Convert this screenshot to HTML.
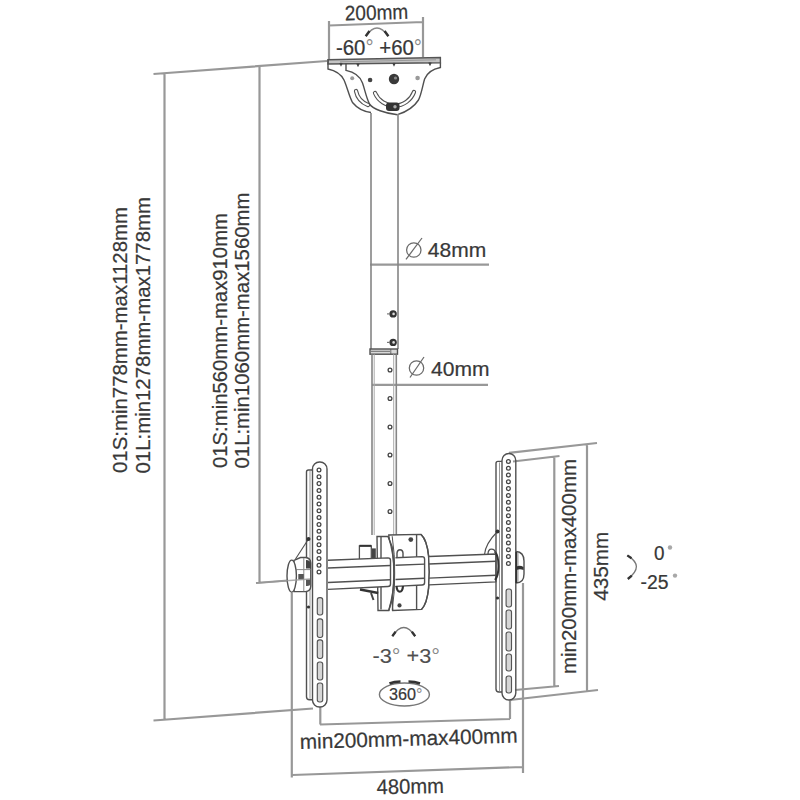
<!DOCTYPE html>
<html><head><meta charset="utf-8"><style>
html,body{margin:0;padding:0;background:#fff;width:800px;height:800px;overflow:hidden}
svg{display:block}
text{font-family:"Liberation Sans",sans-serif;fill:#383838;stroke:#383838;stroke-width:0.22}
.d{stroke:#989898;stroke-width:2.2;fill:none}
.o{stroke:#505050;stroke-width:1.4;fill:none}
</style></head><body>
<svg width="800" height="800" viewBox="0 0 800 800">
<rect width="800" height="800" fill="#fff"/>
<g class="d">
  <path d="M329 21V60 M423 17V57 M329 25.5L423 22"/>
  <path d="M153.5 74L327 61 M164.5 72.5V720 M153.5 720.5L313 708.5"/>
  <path d="M259.5 66V583 M256 583L288 580.5 M296 579.9L310 579"/>
  <path d="M370 264.6H489 M372 384.8H488"/>
  <path d="M509 452.8L597 443 M587 445V692 M513 461.5L559.5 456 M554.3 457V686 M515 690L559 686 M510 700L598 690"/>
  <path d="M291.8 592.5V777.5 M523 583V773 M292.3 775L523 767 M320.3 707V724.5 M510 700V719 M320 724.5L510 719"/>
</g>

<text x="345" y="20.6" transform="rotate(-1.7 345 20.6)" font-size="21" textLength="63.5" lengthAdjust="spacingAndGlyphs">200mm</text>
<text x="336" y="55" font-size="21.5" textLength="86" lengthAdjust="spacingAndGlyphs">-60<tspan style="fill:#8a8a8a;stroke:none">°</tspan> +60<tspan style="fill:#8a8a8a;stroke:none">°</tspan></text>
<path d="M366 36Q377 20 388 36" class="o" style="stroke:#888;stroke-width:1.3"/>
<path d="M365.7 36.3L369.5 31 M388.4 36.3L384.6 31" stroke="#333" stroke-width="2.4" fill="none"/>
<g class="o" style="stroke:#6a6a6a;stroke-width:1.25">
  <circle cx="413.8" cy="250" r="7.2"/><path d="M406 259.4L422 238"/>
  <circle cx="416.5" cy="368" r="7.2"/><path d="M410 377.5L424 357"/>
</g>
<text x="427.8" y="256.8" font-size="21" textLength="58.5" lengthAdjust="spacingAndGlyphs">48mm</text>
<text x="431" y="375.8" font-size="21" textLength="58.5" lengthAdjust="spacingAndGlyphs">40mm</text>
<text transform="translate(127.3 473) rotate(-90)" font-size="20.5" textLength="266" lengthAdjust="spacingAndGlyphs">01S:min778mm-max1128mm</text>
<text transform="translate(149.5 473.5) rotate(-90)" font-size="20.5" textLength="276.5" lengthAdjust="spacingAndGlyphs">01L:min1278mm-max1778mm</text>
<text transform="translate(226.5 468) rotate(-90)" font-size="20.5" textLength="255" lengthAdjust="spacingAndGlyphs">01S:min560mm-max910mm</text>
<text transform="translate(249 468.5) rotate(-90)" font-size="20.5" textLength="276" lengthAdjust="spacingAndGlyphs">01L:min1060mm-max1560mm</text>
<text transform="translate(575.5 674) rotate(-90)" font-size="20.5" textLength="215" lengthAdjust="spacingAndGlyphs">min200mm-max400mm</text>
<text transform="translate(607.5 600.8) rotate(-90)" font-size="20.5" textLength="69" lengthAdjust="spacingAndGlyphs">435mm</text>
<text x="654" y="560" font-size="20.5" textLength="10.5" lengthAdjust="spacingAndGlyphs">0</text>
<circle cx="670" cy="547.5" r="2.2" fill="#a8a8a8"/>
<text x="640.6" y="589.4" font-size="20.5" textLength="28" lengthAdjust="spacingAndGlyphs">-25</text>
<circle cx="675" cy="575.6" r="2.2" fill="#a8a8a8"/>
<path d="M627.5 555.6Q645 566 628 578.8" class="o" style="stroke:#777;stroke-width:1.3"/>
<path d="M627.3 555.4L631.5 558.3 M627.8 579L631.8 575.6" stroke="#333" stroke-width="2.3" fill="none"/>
<text x="372.5" y="662.5" font-size="20.5" textLength="67.5" lengthAdjust="spacingAndGlyphs" style="fill:#505050;stroke:#505050;stroke-width:0.1">-3<tspan style="fill:#8a8a8a;stroke:none">°</tspan> +3<tspan style="fill:#8a8a8a;stroke:none">°</tspan></text>
<path d="M392.5 636Q403.8 619 415 636" class="o" style="stroke:#777;stroke-width:1.3"/>
<path d="M392.3 636.3L395.6 631.8 M415.2 636.3L411.9 631.8" stroke="#333" stroke-width="2.3" fill="none"/>
<ellipse cx="404.4" cy="694.5" rx="25" ry="11.5" class="o" style="stroke:#777"/>
<path d="M389.5 683.5Q394 681.5 400.5 681.5 M408.5 681.5Q415 681.5 420 683.5" stroke="#333" stroke-width="2.6" fill="none"/>
<text x="389" y="700" font-size="16.5" textLength="33.5" lengthAdjust="spacingAndGlyphs">360<tspan style="fill:#8a8a8a;stroke:none">°</tspan></text>
<text x="300" y="749" transform="rotate(-1.7 300 749)" font-size="21" textLength="218" lengthAdjust="spacingAndGlyphs">min200mm-max400mm</text>
<text x="376.8" y="794.2" transform="rotate(-1.2 376.8 794.2)" font-size="21" textLength="67.2" lengthAdjust="spacingAndGlyphs">480mm</text>

<g class="o">
  <path d="M440.4 62.5V67.5C433 69 427 73 424.6 79C422.5 86 421.5 94 418.5 100C414 107 406 112 397.5 114.7"/>
  <path d="M328 59.8L440.4 57.5V62.8L328 64Z" style="fill:#c4c4c4" stroke="#555"/>
  <path d="M340 61.8L436 59.8" stroke="#999" stroke-width="1"/>
  <path d="M328 59.5V69C335 70.5 341 74 344 80C347.5 88 349 96 352.5 102.5C357 108 363 111.5 371 112.5"/>
  <path d="M346 63V70.4C354 72 360 76 362.5 83C365 90 366 97 369.5 104C373 109 385 113.5 397.5 114.7"/>
</g>
<path d="M375 93A21 21 0 0 0 414 92" fill="none" stroke="#555" stroke-width="4.3" stroke-linecap="round"/>
<path d="M375 93A21 21 0 0 0 414 92" fill="none" stroke="#fff" stroke-width="2.1" stroke-linecap="round"/>
<path d="M356 91Q358 101 368 105" fill="none" stroke="#555" stroke-width="4.3" stroke-linecap="round"/>
<path d="M356 91Q358 101 368 105" fill="none" stroke="#fff" stroke-width="2.1" stroke-linecap="round"/>
<circle cx="394" cy="79" r="5.2" fill="#3a3a3a"/><circle cx="395.5" cy="78" r="1.6" fill="#888"/>
<circle cx="417.6" cy="78" r="2.3" fill="#9a9a9a"/>
<circle cx="370.1" cy="80" r="2.3" fill="#444"/>
<circle cx="352.2" cy="78.2" r="2" fill="#9a9a9a"/>
<rect x="386" y="102.5" width="13.5" height="8.5" rx="3" fill="#333"/>
<circle cx="395" cy="106.8" r="1.7" fill="#aaa"/>
<path d="M340 63l1 2 1-2 M357 63.5l1 2 1-2 M393 63l1 2 1-2 M429 62.5l1 2 1-2" stroke="#444" stroke-width="1.6" fill="none"/>

<g class="o">
  <path d="M371 113V349 M398 114V349" style="stroke:#858585;stroke-width:1.6"/>
  <rect x="370" y="349" width="27.5" height="5.2" fill="#d8d8d8"/>
  <path d="M390.8 349V354.2 M371 351.3H390" stroke-width="0.8"/>
  <path d="M372 354.2V535 M396.3 354.2V535" style="stroke:#858585;stroke-width:1.6"/>
  <path d="M374.2 354.2V535 M393.7 354.2V535" stroke="#aaa" stroke-width="1"/>
</g>
<circle cx="393.1" cy="313.9" r="3.7" fill="#333"/><circle cx="393.6" cy="313.9" r="1.3" fill="#ddd"/><path d="M387 313.9H390" stroke="#777" stroke-width="1.2"/>
<circle cx="393.1" cy="342.4" r="3.7" fill="#333"/><circle cx="393.6" cy="342.4" r="1.3" fill="#ddd"/><path d="M387 342.4H390" stroke="#777" stroke-width="1.2"/>

<circle cx="390" cy="370" r="1.9" fill="none" stroke="#444" stroke-width="1.3"/>
<circle cx="390" cy="398.5" r="1.9" fill="none" stroke="#444" stroke-width="1.3"/>
<circle cx="390" cy="427" r="1.9" fill="none" stroke="#444" stroke-width="1.3"/>
<circle cx="390" cy="455" r="1.9" fill="none" stroke="#444" stroke-width="1.3"/>
<circle cx="390" cy="483.5" r="1.9" fill="none" stroke="#444" stroke-width="1.3"/>
<circle cx="390" cy="511.5" r="1.9" fill="none" stroke="#444" stroke-width="1.3"/>
<g class="o" style="fill:#fff">
  <path d="M388.8 535L421.1 534.4Q427 540 428.6 556Q430 572 428.6 588Q427 604 421.5 609.4L392.75 610.5Z"/>
  <path d="M377 536.5H388L392.2 547Q395.6 573 392.2 599L388.8 610.5H378Z"/>
  <path d="M392.2 536.2Q397.5 573 392.2 610.4" fill="none" stroke-width="1"/>
  <path d="M381 537V609.5" stroke-width="1.4"/>
  <path d="M416.6 535V609.5"/>
  <path d="M359.4 559V545.8H371.3V559" stroke-width="1.3"/>
  <path d="M397 559V553Q397.3 549.8 400 549.8Q402.8 549.8 403 553V559" stroke-width="1.4"/>
</g>
<path d="M359.4 545.8H371.3" stroke="#333" stroke-width="2"/>
<rect x="372" y="548.4" width="3.8" height="10" fill="#444"/>

<path d="M328 560.26L388 557.92Q390.5 557.92 390.5 560.42V584.07Q390.5 586.57 388 586.57L328 589.36" class="o" style="fill:#fff"/>
<path d="M328 568.06L390.5 565.51" class="o"/>
<path d="M328 582.46L390.5 579.78" class="o"/>
<path d="M395.5 557.73L422.1 556.64Q424.6 556.64 424.6 559.14V582.54Q424.6 585.04 422.1 585.04L395.5 586.34" class="o" style="fill:#fff"/>
<path d="M395.5 565.31L424.6 564.12" class="o"/>
<path d="M395.5 579.56L424.6 578.32" class="o"/>
<path d="M429 556.48L495.99 553.96Q496 553.96 496 553.97V581.85Q496 581.86 495.99 581.86L429 584.85" class="o" style="fill:#fff"/>
<path d="M429 563.94L496 561.21" class="o"/>
<path d="M429 578.13L496 575.26" class="o"/>
<g class="o">
  <path d="M388.8 537.4Q399.5 573 388.8 610.5"/>
  <path d="M421.1 534.4Q427 540 428.6 556Q430 572 428.6 588Q427 604 421.5 609.4"/>
  <path d="M360 589.5L378.2 593" stroke="#333" stroke-width="2.4"/>
  <path d="M371 593L373.5 600" stroke="#444" stroke-width="2"/>
  <path d="M396.5 586Q397 591.7 399.8 591.7Q402.6 591.7 403 586" stroke="#333" stroke-width="2.2"/>
</g>
<circle cx="410.8" cy="539.6" r="2.4" fill="#444"/>
<circle cx="399.5" cy="605.4" r="2.1" fill="#444"/>

<g class="o">
<rect x="312.5" y="462" width="14.5" height="245" rx="7" ry="7"/>
<path d="M312.5 470H308.5Q306.5 470 306.5 472V696.8Q306.5 699.8 309.5 699.8H312.5"/>
<path d="M310 471V698.8" stroke="#999" stroke-width="1"/>
<path d="M308.5 539L295.5 559" stroke-width="1.1"/>
</g>
<circle cx="319" cy="470" r="1.9" fill="none" stroke="#444" stroke-width="1.25"/>
<circle cx="319" cy="476.8" r="1.9" fill="none" stroke="#444" stroke-width="1.25"/>
<circle cx="319" cy="483.6" r="1.9" fill="none" stroke="#444" stroke-width="1.25"/>
<circle cx="319" cy="490.4" r="1.9" fill="none" stroke="#444" stroke-width="1.25"/>
<circle cx="319" cy="497.2" r="1.9" fill="none" stroke="#444" stroke-width="1.25"/>
<circle cx="319" cy="504" r="1.9" fill="none" stroke="#444" stroke-width="1.25"/>
<circle cx="319" cy="510.8" r="1.9" fill="none" stroke="#444" stroke-width="1.25"/>
<circle cx="319" cy="517.6" r="1.9" fill="none" stroke="#444" stroke-width="1.25"/>
<circle cx="319" cy="524.4" r="1.9" fill="none" stroke="#444" stroke-width="1.25"/>
<circle cx="319" cy="531.2" r="1.9" fill="none" stroke="#444" stroke-width="1.25"/>
<circle cx="319" cy="538" r="1.9" fill="none" stroke="#444" stroke-width="1.25"/>
<circle cx="319" cy="544.8" r="1.9" fill="none" stroke="#444" stroke-width="1.25"/>
<circle cx="319" cy="551.6" r="1.9" fill="none" stroke="#444" stroke-width="1.25"/>
<circle cx="319" cy="558.4" r="1.9" fill="none" stroke="#444" stroke-width="1.25"/>
<circle cx="319" cy="565.2" r="1.9" fill="none" stroke="#444" stroke-width="1.25"/>
<circle cx="319" cy="572" r="1.9" fill="none" stroke="#444" stroke-width="1.25"/>
<rect x="317.3" y="597.6" width="5.4" height="17.4" rx="2.2" fill="#d6d6d6" stroke="#555" stroke-width="1.15"/>
<rect x="317.3" y="618.8" width="5.4" height="18.7" rx="2.2" fill="#d6d6d6" stroke="#555" stroke-width="1.15"/>
<rect x="317.3" y="639.8" width="5.4" height="18.7" rx="2.2" fill="#d6d6d6" stroke="#555" stroke-width="1.15"/>
<rect x="317.3" y="662" width="5.4" height="18" rx="2.2" fill="#d6d6d6" stroke="#555" stroke-width="1.15"/>
<rect x="317.3" y="683" width="5.4" height="19" rx="2.2" fill="#d6d6d6" stroke="#555" stroke-width="1.15"/>
<circle cx="308.5" cy="539" r="2" fill="#333"/>
<circle cx="308.5" cy="607" r="1.6" fill="#333"/>
<g class="o">
<rect x="502" y="453.5" width="13.8" height="246.5" rx="7" ry="7"/>
<path d="M502 461.4H498Q496 461.4 496 463.4V689Q496 692 499 692H502"/>
<path d="M499.5 462.4V691" stroke="#999" stroke-width="1"/>
<path d="M497.5 531.5Q485.5 543.5 484.5 554.5" stroke-width="1.1"/>
</g>
<circle cx="508.4" cy="461.4" r="1.9" fill="none" stroke="#444" stroke-width="1.25"/>
<circle cx="508.4" cy="468.2" r="1.9" fill="none" stroke="#444" stroke-width="1.25"/>
<circle cx="508.4" cy="475" r="1.9" fill="none" stroke="#444" stroke-width="1.25"/>
<circle cx="508.4" cy="481.8" r="1.9" fill="none" stroke="#444" stroke-width="1.25"/>
<circle cx="508.4" cy="488.6" r="1.9" fill="none" stroke="#444" stroke-width="1.25"/>
<circle cx="508.4" cy="495.4" r="1.9" fill="none" stroke="#444" stroke-width="1.25"/>
<circle cx="508.4" cy="502.2" r="1.9" fill="none" stroke="#444" stroke-width="1.25"/>
<circle cx="508.4" cy="509" r="1.9" fill="none" stroke="#444" stroke-width="1.25"/>
<circle cx="508.4" cy="515.8" r="1.9" fill="none" stroke="#444" stroke-width="1.25"/>
<circle cx="508.4" cy="522.6" r="1.9" fill="none" stroke="#444" stroke-width="1.25"/>
<circle cx="508.4" cy="529.4" r="1.9" fill="none" stroke="#444" stroke-width="1.25"/>
<circle cx="508.4" cy="536.2" r="1.9" fill="none" stroke="#444" stroke-width="1.25"/>
<circle cx="508.4" cy="543" r="1.9" fill="none" stroke="#444" stroke-width="1.25"/>
<circle cx="508.4" cy="549.8" r="1.9" fill="none" stroke="#444" stroke-width="1.25"/>
<circle cx="508.4" cy="556.6" r="1.9" fill="none" stroke="#444" stroke-width="1.25"/>
<circle cx="508.4" cy="563.4" r="1.9" fill="none" stroke="#444" stroke-width="1.25"/>
<rect x="506.1" y="589" width="5.4" height="18" rx="2.2" fill="#d6d6d6" stroke="#555" stroke-width="1.15"/>
<rect x="506.1" y="610" width="5.4" height="19" rx="2.2" fill="#d6d6d6" stroke="#555" stroke-width="1.15"/>
<rect x="506.1" y="632" width="5.4" height="19" rx="2.2" fill="#d6d6d6" stroke="#555" stroke-width="1.15"/>
<rect x="506.1" y="654" width="5.4" height="17" rx="2.2" fill="#d6d6d6" stroke="#555" stroke-width="1.15"/>
<rect x="506.1" y="676" width="5.4" height="17" rx="2.2" fill="#d6d6d6" stroke="#555" stroke-width="1.15"/>
<circle cx="497.5" cy="531.5" r="2" fill="#333"/>
<circle cx="497.5" cy="598" r="1.6" fill="#333"/>
<g class="o">
  <path d="M294 560.3L300.5 557.5H305.5Q310.6 558 310.8 563V586Q310.6 591.3 305.5 591.6H294Z" style="fill:#fff"/>
  <path d="M303.8 558V591.3 M296.5 569.6H310.5" stroke-width="1" stroke="#888"/>
  <ellipse cx="291.7" cy="576.1" rx="4.7" ry="16" style="fill:#fff"/>
  <path d="M516 551.5Q524 552 524 561V574Q524 583 516 583" style="fill:#fff"/>
  <path d="M518 552.5V582" stroke-width="1" stroke="#999"/>
</g>
<path d="M306 560Q310.5 560 311 564V568.5H306Z" fill="#444"/>
<rect x="298.3" y="574" width="5.5" height="5.5" fill="#555"/>
<path d="M306 579.5H310.5V584Q310 586.5 306 586Z" fill="#555"/>
<path d="M256 583L310 579" stroke="#989898" stroke-width="1.4" fill="none" opacity="0.8"/>
<path d="M516.5 566.5Q520 565 523.5 567V570Q520 568.5 516.5 570Z" fill="#333"/>
<path d="M516.3 552V583" stroke="#333" stroke-width="1.8"/>
<path d="M495 551.5Q498.5 556 498.5 566Q498.5 576 495 580" stroke="#333" stroke-width="2" fill="none"/>
<path d="M488 554.5Q488 549.2 491.5 549.2Q495 549.2 495.3 553" stroke="#505050" stroke-width="1.3" fill="none"/>

</svg>
</body></html>
